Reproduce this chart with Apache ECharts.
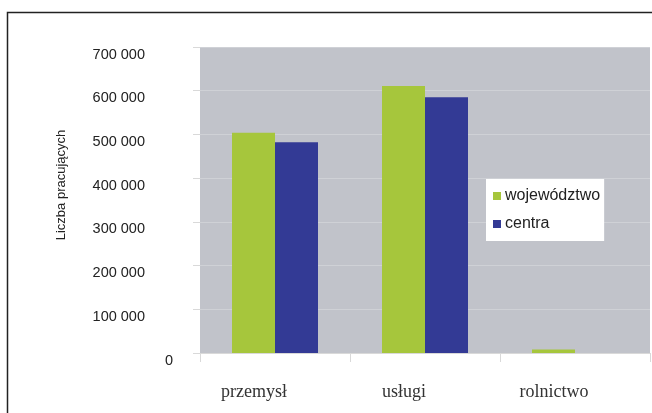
<!DOCTYPE html>
<html>
<head>
<meta charset="utf-8">
<title>Liczba pracujących</title>
<script src="https://cdn.jsdelivr.net/npm/echarts@6/dist/echarts.min.js"></script>
<style>
  html, body { margin: 0; padding: 0; background: #fff; }
  #main { width: 652px; height: 413px; }
</style>
</head>
<body>
<div id="main"></div>
<script>
// dane
var categories = ['przemysł', 'usługi', 'rolnictwo'];
var wojewodztwo = [504000, 611000, 8000];
var centra = [482000, 585000, 0];
var seriesNames = ['województwo', 'centra'];

var myChart = echarts.init(document.getElementById('main'));

function fmt(v) {
  return String(v).replace(/\B(?=(\d{3})+(?!\d))/g, ' ');
}

var option = {
  backgroundColor: '#fff',
  animation: false,
  graphic: [{
    type: 'rect',
    left: 5, top: 10,
    shape: { width: 700, height: 500 },
    style: { fill: 'none', stroke: '#222', lineWidth: 1.5 },
    z: 0
  }, {
    type: 'text',
    x: 61, y: 185,
    rotation: Math.PI / 2,
    style: {
      text: 'Liczba pracujących',
      fontFamily: 'Liberation Sans', fontSize: 13, fill: '#222',
      textAlign: 'center', textVerticalAlign: 'middle'
    }
  }],
  grid: {
    left: 200, right: 2, top: 47, bottom: 60,
    show: true,
    backgroundColor: '#c1c3ca',
    borderWidth: 0
  },
  legend: {
    data: seriesNames,
    orient: 'vertical',
    left: 486, top: 179,
    backgroundColor: '#fff',
    padding: [9, 4, 9, 7],
    itemGap: 12,
    itemWidth: 8, itemHeight: 8,
    icon: 'rect',
    textStyle: { fontFamily: 'Liberation Sans', fontSize: 16, color: '#222', padding: [0, 0, 0, -1] }
  },
  xAxis: {
    type: 'category',
    data: categories,
    axisLine: { lineStyle: { color: '#d9d9d9', width: 1 } },
    axisTick: { show: true, length: 9, lineStyle: { color: '#d9d9d9' } },
    axisLabel: {
      margin: 30,
      fontFamily: 'Liberation Serif',
      fontSize: 18,
      color: '#333',
      padding: [0, 42, 0, 0]
    }
  },
  yAxis: {
    type: 'value',
    min: 0, max: 700000, interval: 100000,
    axisLine: { show: false },
    axisTick: { show: true, length: 7, lineStyle: { color: '#d9d9d9' } },
    splitLine: { lineStyle: { color: '#cfd1d6', width: 1 } },
    axisLabel: {
      margin: 27,
      verticalAlign: 'top',
      fontFamily: 'Liberation Sans',
      fontSize: 14.5,
      color: '#222',
      formatter: function (v) {
        return v === 0 ? '0' : '{a|' + fmt(v) + '}';
      },
      rich: { a: { fontFamily: 'Liberation Sans', fontSize: 14.5, color: '#222', padding: [0, 28, 0, 0] } }
    }
  },
  series: [
    {
      name: seriesNames[0],
      type: 'bar',
      data: wojewodztwo,
      barWidth: 43,
      barGap: '0%',
      itemStyle: { color: '#a6c63c' }
    },
    {
      name: seriesNames[1],
      type: 'bar',
      data: centra,
      barWidth: 43,
      barGap: '0%',
      itemStyle: { color: '#333a95' }
    }
  ]
};

myChart.setOption(option);
</script>
</body>
</html>
